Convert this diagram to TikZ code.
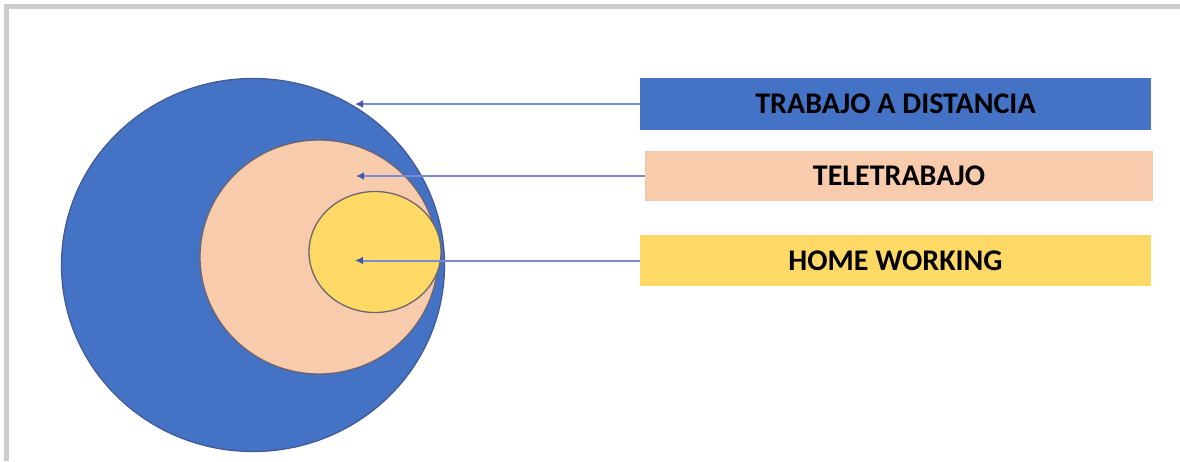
\documentclass[tikz,border=0pt]{standalone}
\usepackage{fontspec}
\setmainfont{Carlito}
\usetikzlibrary{shapes.geometric,arrows.meta}
\definecolor{tdblue}{HTML}{4472C4}
\definecolor{tdpeach}{HTML}{F8CBAD}
\definecolor{tdyellow}{HTML}{FFD966}
\definecolor{framegray}{HTML}{CCCCCC}
\definecolor{arrowline}{RGB}{122,140,214}
\definecolor{arrowhead}{RGB}{70,88,170}
\definecolor{rimblue}{RGB}{68,90,150}
\definecolor{rimgray}{RGB}{110,100,110}
\begin{document}
\begin{tikzpicture}[x=1pt,y=-1pt,
  blob/.style={ellipse, inner sep=0pt, line width=1.3pt},
  labelbox/.style={rectangle, inner sep=0pt, font=\fontsize{30}{32}\selectfont\bfseries, text=black},
  pointer/.style={draw=arrowline, line width=2pt, -{Latex[length=8pt,width=8pt,color=arrowhead]}}
]
\useasboundingbox (0,0) rectangle (1180,461);
\fill[white] (0,0) rectangle (1180,461);
% frame
\draw[framegray, line width=5pt, line join=miter] (6.5,461) -- (6.5,6.5) -- (1180,6.5);
% nested ellipses
\node[blob, fill=tdblue, draw=rimblue, minimum width=383pt, minimum height=373pt] (outer) at (253,265) {};
\node[blob, fill=tdpeach, draw=rimgray, minimum width=238pt, minimum height=234pt] (middle) at (319,257) {};
\node[blob, fill=tdyellow, draw=rimgray, minimum width=132pt, minimum height=121pt] (inner) at (375,252) {};
% label boxes
\node[labelbox, fill=tdblue, minimum width=511pt, minimum height=52pt] (bdist) at (895.5,104) {TRABAJO A DISTANCIA};
\node[labelbox, fill=tdpeach, minimum width=508pt, minimum height=50pt] (btele) at (899,176) {TELETRABAJO};
\node[labelbox, fill=tdyellow, minimum width=511pt, minimum height=51pt] (bhome) at (895.5,260.5) {HOME WORKING};
% arrow tips
\coordinate (tdist) at (355,104);
\coordinate (ttele) at (356,176);
\coordinate (thome) at (355,260.5);
\draw[pointer] (bdist.west) -- (tdist);
\draw[pointer] (btele.west) -- (ttele);
\draw[pointer] (bhome.west) -- (thome);
\end{tikzpicture}
\end{document}
